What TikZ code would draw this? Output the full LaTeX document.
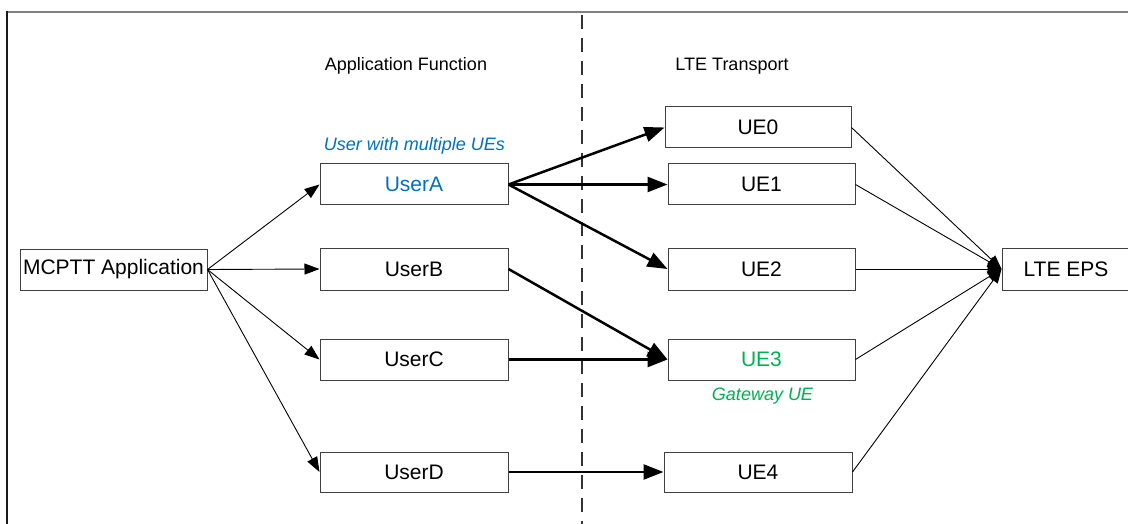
\documentclass[tikz,border=0pt]{standalone}
\usepackage{fontspec}
\setmainfont{Liberation Sans}
\usetikzlibrary{arrows.meta}
\definecolor{ublue}{HTML}{0070C0}
\definecolor{ugreen}{HTML}{00B050}
\begin{document}
\begin{tikzpicture}[x=1pt,y=-1pt,
  box/.style={draw=black!75, line width=1pt, minimum height=41pt, inner sep=0pt,
              font=\fontsize{21}{24}\selectfont},
  thinarr/.style={line width=0.9pt, -{Triangle[length=15pt,width=11pt]}},
  thickarr/.style={line width=2.5pt, -{Triangle[length=20pt,width=15pt]}},
  epsarr/.style={line width=0.9pt, -{Triangle[length=14pt,width=11pt]}},
  lbl/.style={font=\fontsize{18}{21}\selectfont, anchor=base, inner sep=0pt}]
\useasboundingbox (0,0) rectangle (1128,524);
% frame
\draw[line width=1.5pt, black!50] (7,12) -- (1140,12);
\draw[line width=1.5pt, black!90] (7,11.25) -- (7,540);
% dashed divider
\coordinate (dtop) at (582,15);
\coordinate (dbot) at (582,530);
\draw[line width=1.2pt, black!80, dash pattern=on 14pt off 9pt] (dtop) -- (dbot);
% headers
\node[lbl] (hAF) at (406,71) {Application Function};
\node[lbl] (hLT) at (732,71) {LTE Transport};
\node[lbl, text=ublue, font=\fontsize{18}{21}\selectfont\itshape] (lUA) at (414.5,151) {User with multiple UEs};
\node[lbl, text=ugreen, font=\fontsize{18}{21}\selectfont\itshape] (lGW) at (762.5,400) {Gateway UE};
% nodes
\node[box, minimum width=187pt] (mc) at (113.5,269.5) {MCPTT Application};
\node[box, minimum width=188pt, text=ublue] (ua) at (414,184.5) {UserA};
\node[box, minimum width=188pt, minimum height=42pt] (ub) at (414,269) {UserB};
\node[box, minimum width=188pt] (uc) at (414,359.5) {UserC};
\node[box, minimum width=188pt, minimum height=40pt] (ud) at (414,472) {UserD};
\node[box, minimum width=186pt] (e0) at (758,127.5) {UE0};
\node[box, minimum width=187pt] (e1) at (761.5,184.5) {UE1};
\node[box, minimum width=187pt, minimum height=42pt] (e2) at (761.5,269) {UE2};
\node[box, minimum width=187pt, text=ugreen] (e3) at (761.5,359.5) {UE3};
\node[box, minimum width=188pt, minimum height=40pt] (e4) at (758,472) {UE4};
\node[box, minimum width=128pt, minimum height=42pt] (eps) at (1066,269) {LTE EPS};
% application -> users
\draw[thinarr] (mc.east) -- (ua.west);
\draw[thinarr] (mc.east) -- (ub.west);
\draw[thinarr] (mc.east) -- (uc.west);
\draw[thinarr] (mc.east) -- (ud.west);
% users -> UEs
\draw[thickarr] (ua.east) -- (e0.west);
\draw[thickarr] (ua.east) -- (e1.west);
\draw[thickarr] (ua.east) -- (e2.west);
\draw[thickarr] (ub.east) -- (e3.west);
\draw[thickarr] (uc.east) -- (e3.west);
\draw[thickarr] (ud.east) -- (e4.west);
% UEs -> LTE EPS
\draw[epsarr] (e0.east) -- (eps.west);
\draw[epsarr] (e1.east) -- (eps.west);
\draw[epsarr] (e2.east) -- (eps.west);
\draw[epsarr] (e3.east) -- (eps.west);
\draw[epsarr] (e4.east) -- (eps.west);
\end{tikzpicture}
\end{document}
